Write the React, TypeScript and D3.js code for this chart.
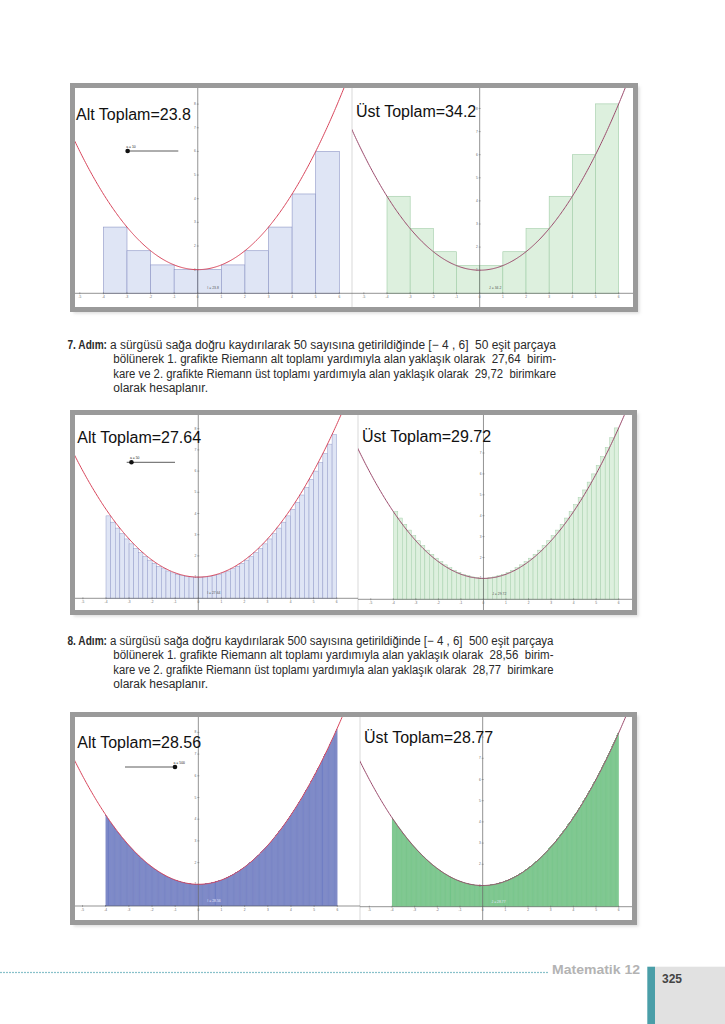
import React from "react";
import * as d3 from "d3";

// ---------- data ----------
const X_DOMAIN = [-4, 6];
const CURVE_COEFFS = [1, 0, 0.2]; // f(x) = 1 + 0x + 0.2x^2
const PARTITIONS = [10, 50, 500];
const LOWER_LABELS = ["23.8", "27.64", "28.56"];
const UPPER_LABELS = ["34.2", "29.72", "28.77"];
const LOWER_10 = [2.8, 1.8, 1.2, 1, 1, 1.2, 1.8, 2.8, 4.2, 6];
const UPPER_10 = [4.2, 2.8, 1.8, 1.2, 1.2, 1.8, 2.8, 4.2, 6, 8.2];
const X_TICKS = [-5, -4, -3, -2, -1, 0, 1, 2, 3, 4, 5, 6];
const Y_TICKS = [1, 2, 3, 4, 5, 6, 7, 8];
const SLIDER_RANGE = [1, 500];

const STEP_TEXTS = [
  {
    head: "7. Adım:",
    lines: [
      "a sürgüsü sağa doğru kaydırılarak 50 sayısına getirildiğinde [− 4 , 6]  50 eşit parçaya",
      "bölünerek 1. grafikte Riemann alt toplamı yardımıyla alan yaklaşık olarak  27,64  birim-",
      "kare ve 2. grafikte Riemann üst toplamı yardımıyla alan yaklaşık olarak  29,72  birimkare",
      "olarak hesaplanır.",
    ],
  },
  {
    head: "8. Adım:",
    lines: [
      "a sürgüsü sağa doğru kaydırılarak 500 sayısına getirildiğinde [− 4 , 6]  500 eşit parçaya",
      "bölünerek 1. grafikte Riemann alt toplamı yardımıyla alan yaklaşık olarak  28,56  birim-",
      "kare ve 2. grafikte Riemann üst toplamı yardımıyla alan yaklaşık olarak  28,77  birimkare",
      "olarak hesaplanır.",
    ],
  },
];

const f = (x: number) => CURVE_COEFFS[0] + CURVE_COEFFS[1] * x + CURVE_COEFFS[2] * x * x;

function barHeights(n: number, kind: "lower" | "upper"): number[] {
  if (n === 10) return kind === "lower" ? LOWER_10 : UPPER_10;
  const dx = (X_DOMAIN[1] - X_DOMAIN[0]) / n;
  return d3.range(n).map((i) => {
    const a = X_DOMAIN[0] + i * dx;
    const b = a + dx;
    if (kind === "upper") return Math.max(f(a), f(b));
    if (a <= 0 && b >= 0) return f(0);
    return Math.min(f(a), f(b));
  });
}

// ---------- layout ----------
type GCfg = { clip: [number, number, number, number]; xAt: [number, number]; yZero: number; uy: number };
type Row = {
  frame: [number, number, number, number];
  sep: number;
  left: GCfg;
  right: GCfg;
  labelY: [number, number];
  slider: { x0: number; x1: number; y: number };
  style: { lf: string; ls: string; uf: string; us: string; sw: number; smallFill: string };
};

const ROWS: Row[] = [
  {
    frame: [70, 83, 638, 312],
    sep: 352,
    left: { clip: [75, 88, 352, 307], xAt: [103.4, 339.3], yZero: 293.3, uy: 23.65 },
    right: { clip: [352, 88, 633, 307], xAt: [387, 618.7], yZero: 293.3, uy: 23.1 },
    labelY: [120, 117],
    slider: { x0: 126.7, x1: 178.3, y: 151 },
    style: { lf: "#dfe5f5", ls: "#8d95c6", uf: "#ddf0de", us: "#9fcca6", sw: 0.6, smallFill: "#555" },
  },
  {
    frame: [70, 410, 637, 615],
    sep: 358,
    left: { clip: [75, 415, 358, 610], xAt: [106, 336.7], yZero: 598.3, uy: 21.2 },
    right: { clip: [358, 415, 632, 610], xAt: [393.3, 618.7], yZero: 599.3, uy: 20.9 },
    labelY: [443.3, 442.3],
    slider: { x0: 126.7, x1: 175, y: 462.3 },
    style: { lf: "#dfe5f5", ls: "#8d95c6", uf: "#ddf0de", us: "#9fcca6", sw: 0.45, smallFill: "#555" },
  },
  {
    frame: [70, 712, 637, 925],
    sep: 360,
    left: { clip: [75, 717, 360, 920], xAt: [105.7, 337.3], yZero: 906, uy: 21.7 },
    right: { clip: [360, 717, 632, 920], xAt: [392, 618.7], yZero: 906.7, uy: 21.2 },
    labelY: [747.7, 743.3],
    slider: { x0: 125, x1: 175, y: 767 },
    style: { lf: "#5c69b8", ls: "#7380c6", uf: "#5cb971", us: "#74c688", sw: 0.12, smallFill: "#e8e8ff" },
  },
];

function Graph({
  id,
  cfg,
  kind,
  n,
  fill,
  stroke,
  sw,
  curveColor,
  label,
  labelX,
  labelY,
  sumName,
  sumText,
  smallFill,
}: any) {
  const x = d3.scaleLinear().domain(X_DOMAIN).range(cfg.xAt);
  const y = d3.scaleLinear().domain([0, 1]).range([cfg.yZero, cfg.yZero - cfg.uy]);
  const [cx0, cy0, cx1, cy1] = cfg.clip;
  const heights = barHeights(n, kind);
  const dx = (X_DOMAIN[1] - X_DOMAIN[0]) / n;
  const xs = d3.range(-8, 9.001, 0.04);
  const line = d3
    .line<number>()
    .x((v) => x(v))
    .y((v) => y(f(v)));
  return (
    <g>
      <defs>
        <clipPath id={id}>
          <rect x={cx0} y={cy0} width={cx1 - cx0} height={cy1 - cy0} />
        </clipPath>
      </defs>
      <g clipPath={`url(#${id})`}>
        {heights.map((h, i) => {
          const a = X_DOMAIN[0] + i * dx;
          return (
            <rect
              key={i}
              x={x(a)}
              y={y(h)}
              width={x(a + dx) - x(a)}
              height={y(0) - y(h)}
              fill={fill}
              stroke={stroke}
              strokeWidth={sw}
            />
          );
        })}
        {/* axes */}
        <line x1={cx0} x2={cx1} y1={y(0)} y2={y(0)} stroke="#666" strokeWidth={0.7} />
        <line x1={x(0)} x2={x(0)} y1={cy0} y2={cy1} stroke="#666" strokeWidth={0.7} />
        {X_TICKS.map((t) => (
          <g key={"xt" + t}>
            <line x1={x(t)} x2={x(t)} y1={y(0) - 1} y2={y(0) + 1} stroke="#666" strokeWidth={0.5} />
            <text x={x(t)} y={y(0) + 4.5} fontSize={3.2} textAnchor="middle" fill="#666" fontFamily="Liberation Sans">
              {t}
            </text>
          </g>
        ))}
        {Y_TICKS.map((t) => (
          <g key={"yt" + t}>
            <line x1={x(0) - 1} x2={x(0) + 1} y1={y(t)} y2={y(t)} stroke="#666" strokeWidth={0.5} />
            <text x={x(0) - 2} y={y(t) + 1} fontSize={3.2} textAnchor="end" fill="#666" fontFamily="Liberation Sans">
              {t}
            </text>
          </g>
        ))}
        <path d={line(xs) || ""} fill="none" stroke={curveColor} strokeWidth={1} />
        <text x={x(0) + 2.5 + cfg.uy * 0.3} y={y(0) - 4} fontSize={3.4} fill={smallFill} fontFamily="Liberation Sans">
          {sumName} = {sumText}
        </text>
      </g>
      <text x={labelX} y={labelY} fontSize={16} fill="#111" fontFamily="Liberation Sans">
        {label}
      </text>
    </g>
  );
}

function Panel({ row, idx }: { row: Row; idx: number }) {
  const [fx0, fy0, fx1, fy1] = row.frame;
  const n = PARTITIONS[idx];
  const sx = d3.scaleLinear().domain(SLIDER_RANGE).range([row.slider.x0, row.slider.x1]);
  const dotX = sx(n);
  return (
    <g>
      <rect x={fx0 + 3.5} y={fy0 + 3.5} width={fx1 - fx0 - 2} height={fy1 - fy0 - 2} fill="#bbb" opacity={0.5} filter="url(#blur)" />
      <rect x={fx0 + 2.5} y={fy0 + 2.5} width={fx1 - fx0 - 5} height={fy1 - fy0 - 5} fill="#fff" stroke="#9a9a9a" strokeWidth={5} />
      <line x1={row.sep} x2={row.sep} y1={fy0 + 5} y2={fy1 - 5} stroke="#cfcfcf" strokeWidth={0.8} />
      <Graph
        id={`cl${idx}`}
        cfg={row.left}
        kind="lower"
        n={n}
        fill={row.style.lf}
        stroke={row.style.ls}
        sw={row.style.sw}
        curveColor="#d8455b"
        label={`Alt Toplam=${LOWER_LABELS[idx]}`}
        labelX={idx === 0 ? 76 : 77.3}
        labelY={row.labelY[0]}
        sumName="I"
        sumText={LOWER_LABELS[idx]}
        smallFill={row.style.smallFill}
      />
      <Graph
        id={`cr${idx}`}
        cfg={row.right}
        kind="upper"
        n={n}
        fill={row.style.uf}
        stroke={row.style.us}
        sw={row.style.sw}
        curveColor="#9b4a6c"
        label={`Üst Toplam=${UPPER_LABELS[idx]}`}
        labelX={row.sep + 4}
        labelY={row.labelY[1]}
        sumName="J"
        sumText={UPPER_LABELS[idx]}
        smallFill={row.style.smallFill}
      />
      {/* slider */}
      <line x1={row.slider.x0} x2={row.slider.x1} y1={row.slider.y} y2={row.slider.y} stroke="#333" strokeWidth={0.8} />
      <circle cx={dotX} cy={row.slider.y} r={2.3} fill="#111" />
      <text x={dotX - 1.5} y={row.slider.y - 3.5} fontSize={3.4} fill="#222" fontFamily="Liberation Sans">
        a = {n}
      </text>
    </g>
  );
}

function StepText({ idx, top, lineEnd }: { idx: number; top: number; lineEnd: number }) {
  const st = STEP_TEXTS[idx];
  const lh = 14.4;
  return (
    <g fontFamily="Liberation Sans" fontSize={12} fill="#2a2a2a">
      <text x={67.5} y={top} fontWeight="bold" textLength={39.5} lengthAdjust="spacingAndGlyphs">
        {st.head}
      </text>
      {st.lines.map((ln, i) => {
        const x0 = i === 0 ? 110 : 113.3;
        const just = i < st.lines.length - 1;
        return (
          <text
            key={i}
            x={x0}
            y={top + i * lh}
            textLength={just ? lineEnd - x0 : undefined}
            lengthAdjust={just ? "spacingAndGlyphs" : undefined}
            xmlSpace="preserve"
          >
            {ln}
          </text>
        );
      })}
    </g>
  );
}

export default function App() {
  const dots = d3.range(1, 548, 3);
  return (
    <svg
      width={725}
      height={1024}
      viewBox="0 0 725 1024"
      style={{ position: "absolute", left: 0, top: 0, background: "#fff" }}
    >
      <defs>
        <filter id="blur" x="-5%" y="-5%" width="110%" height="110%">
          <feGaussianBlur stdDeviation={1.5} />
        </filter>
      </defs>
      <rect x={0} y={0} width={725} height={1024} fill="#fff" />
      {ROWS.map((r, i) => (
        <Panel key={i} row={r} idx={i} />
      ))}
      <StepText idx={0} top={349} lineEnd={556} />
      <StepText idx={1} top={645} lineEnd={553.5} />
      {/* footer */}
      {dots.map((d) => (
        <circle key={d} cx={d} cy={972.5} r={0.8} fill="#5aaab6" />
      ))}
      <text x={552} y={974} fontSize={12} fontWeight="bold" fill="#b3b3b3" fontFamily="Liberation Sans" textLength={88} lengthAdjust="spacingAndGlyphs">
        Matematik 12
      </text>
      <rect x={655} y={966.7} width={70} height={58} fill="#e1e1e1" />
      <rect x={647.3} y={966.7} width={7.7} height={58} fill="#4a9ea8" />
      <text x={662} y={983} fontSize={12} fontWeight="bold" fill="#444" fontFamily="Liberation Sans">
        325
      </text>
    </svg>
  );
}
